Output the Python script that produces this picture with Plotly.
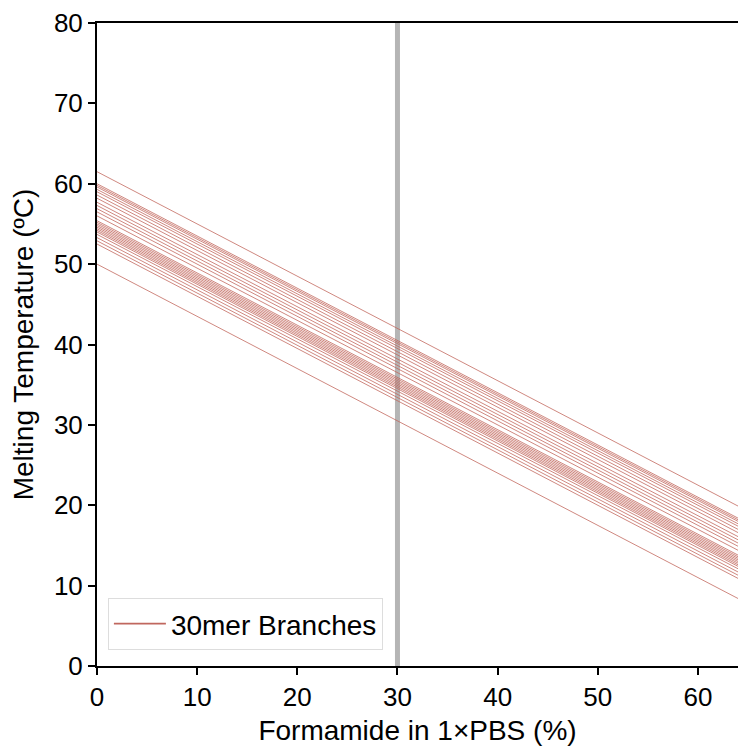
import plotly.graph_objects as go

formamide = [0, 64]
slope = -0.65
tm0 = [61.5, 60.0, 59.8, 59.6, 59.3, 59.0, 58.6, 58.2, 57.7, 57.3, 56.9, 56.5,
       56.0, 55.4, 55.2, 55.0, 54.8, 54.6, 54.4, 54.2, 54.0, 53.7, 53.3, 52.9,
       52.5, 50.0]
vline_x = 30

fig = go.Figure()
for i, t in enumerate(tm0):
    fig.add_trace(go.Scatter(
        x=formamide, y=[t, t + slope * formamide[1]], mode="lines",
        line=dict(color="rgba(194,102,92,0.78)", width=1),
        name="30mer Branches", showlegend=False, legendgroup="b"))
# legend entry
fig.add_trace(go.Scatter(x=[None], y=[None], mode="lines",
                         line=dict(color="#c0675e", width=1.6),
                         name="30mer Branches", legendgroup="b"))

fig.add_shape(type="line", x0=vline_x, x1=vline_x, y0=0, y1=1, yref="paper",
              line=dict(color="#b5b5b5", width=5), layer="below")

font = "Liberation Sans, Arial, Helvetica, sans-serif"
fig.update_layout(
    width=738, height=746,
    margin=dict(l=97, r=0, t=23, b=78),
    plot_bgcolor="white", paper_bgcolor="white",
    font=dict(family=font, size=26, color="black"),
    showlegend=True,
    legend=dict(x=0.017, y=0.025, xanchor="left", yanchor="bottom",
                bgcolor="white", bordercolor="#dddddd", borderwidth=1,
                font=dict(size=28), tracegroupgap=0, itemwidth=52),
    xaxis=dict(range=[0, 64], tickvals=[0, 10, 20, 30, 40, 50, 60],
               showgrid=False, zeroline=False, showline=True, linecolor="black",
               linewidth=2, mirror=True, ticks="outside", ticklen=7, tickwidth=2,
               tickcolor="black", tickfont=dict(size=26),
               title=dict(text="Formamide in 1×PBS (%)", standoff=14,
                          font=dict(size=28))),
    yaxis=dict(range=[0, 80], tickvals=[0, 10, 20, 30, 40, 50, 60, 70, 80],
               showgrid=False, zeroline=False, showline=True, linecolor="black",
               linewidth=2, ticks="outside", ticklen=7, tickwidth=2,
               tickcolor="black", tickfont=dict(size=26),
               title=dict(text="Melting Temperature (ºC)", standoff=12,
                          font=dict(size=28))),
)
fig.write_html("out.html", config={"displayModeBar": False},
               post_script="document.body.style.margin='0';"
                           "document.body.style.overflow='hidden';")
